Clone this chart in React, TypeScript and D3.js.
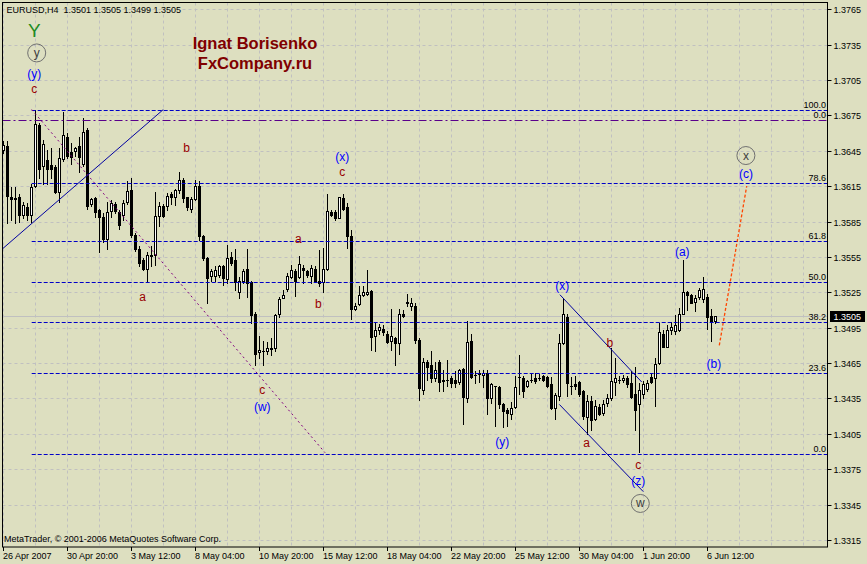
import React from 'react';
import * as d3 from 'd3';

// ---------- DATA ----------
const openP = [
  1.3646, 1.3649, 1.3606, 1.3605, 1.3606, 1.3591, 1.3597, 1.3591, 1.3615, 1.3667,
  1.3632, 1.3637, 1.3633, 1.3631, 1.3610, 1.3638, 1.3657, 1.3644, 1.3645, 1.3649,
  1.3634, 1.3663, 1.3600, 1.3605, 1.3595, 1.3589, 1.3570, 1.3594, 1.3600, 1.3593,
  1.3591, 1.3602, 1.3612, 1.3574, 1.3562, 1.3552, 1.3545, 1.3557, 1.3557, 1.3590,
  1.3598, 1.3598, 1.3608, 1.3606, 1.3612, 1.3620, 1.3606, 1.3596, 1.3604, 1.3615,
  1.3573, 1.3554, 1.3539, 1.3539, 1.3540, 1.3547, 1.3536, 1.3555, 1.3552, 1.3525,
  1.3535, 1.3545, 1.3534, 1.3507, 1.3474, 1.3475, 1.3475, 1.3478, 1.3478, 1.3507,
  1.3520, 1.3528, 1.3538, 1.3543, 1.3538, 1.3546, 1.3543, 1.3539, 1.3545, 1.3535,
  1.3534, 1.3545, 1.3593, 1.3593, 1.3588, 1.3605, 1.3597, 1.3573, 1.3511, 1.3515,
  1.3523, 1.3524, 1.3526, 1.3488, 1.3493, 1.3494, 1.3490, 1.3484, 1.3486, 1.3482,
  1.3507, 1.3517, 1.3513, 1.3513, 1.3485, 1.3442, 1.3466, 1.3463, 1.3452, 1.3466,
  1.3451, 1.3451, 1.3452, 1.3451, 1.3449, 1.3460, 1.3435, 1.3484, 1.3455, 1.3457,
  1.3455, 1.3457, 1.3435, 1.3446, 1.3445, 1.3430, 1.3425, 1.3422, 1.3428, 1.3453,
  1.3452, 1.3446, 1.3451, 1.3452, 1.3452, 1.3454, 1.3453, 1.3447, 1.3427, 1.3437,
  1.3482, 1.3504, 1.3446, 1.3447, 1.3449, 1.3441, 1.3419, 1.3433, 1.3418, 1.3428,
  1.3423, 1.3431, 1.3435, 1.3449, 1.3451, 1.3451, 1.3452, 1.3448, 1.3439, 1.3430,
  1.3439, 1.3443, 1.3453, 1.3452, 1.3465, 1.3490, 1.3479, 1.3493, 1.3492, 1.3493,
  1.3507, 1.3525, 1.3523, 1.3517, 1.3521, 1.3519, 1.3521, 1.3505, 1.3501,
];
const highP = [
  1.3653, 1.3653, 1.3614, 1.3614, 1.3608, 1.3602, 1.3601, 1.3617, 1.3680, 1.3669,
  1.3654, 1.3646, 1.3647, 1.3633, 1.3647, 1.3678, 1.3660, 1.3652, 1.3648, 1.3657,
  1.3673, 1.3664, 1.3605, 1.3606, 1.3596, 1.3592, 1.3602, 1.3603, 1.3602, 1.3595,
  1.3603, 1.3619, 1.3622, 1.3575, 1.3564, 1.3554, 1.3559, 1.3564, 1.3610, 1.3602,
  1.3600, 1.3609, 1.3610, 1.3613, 1.3627, 1.3622, 1.3606, 1.3606, 1.3620, 1.3619,
  1.3574, 1.3555, 1.3545, 1.3547, 1.3548, 1.3548, 1.3565, 1.3559, 1.3562, 1.3538,
  1.3545, 1.3562, 1.3535, 1.3508, 1.3488, 1.3484, 1.3483, 1.3486, 1.3507, 1.3521,
  1.3527, 1.3541, 1.3548, 1.3545, 1.3556, 1.3548, 1.3544, 1.3548, 1.3547, 1.3561,
  1.3563, 1.3608, 1.3595, 1.3595, 1.3606, 1.3608, 1.3601, 1.3578, 1.3516, 1.3530,
  1.3530, 1.3544, 1.3527, 1.3500, 1.3498, 1.3497, 1.3492, 1.3511, 1.3487, 1.3511,
  1.3510, 1.3524, 1.3520, 1.3516, 1.3486, 1.3469, 1.3468, 1.3475, 1.3466, 1.3468,
  1.3459, 1.3468, 1.3454, 1.3458, 1.3460, 1.3461, 1.3501, 1.3490, 1.3458, 1.3459,
  1.3459, 1.3459, 1.3448, 1.3446, 1.3446, 1.3431, 1.3427, 1.3432, 1.3454, 1.3472,
  1.3454, 1.3451, 1.3456, 1.3457, 1.3456, 1.3455, 1.3454, 1.3453, 1.3440, 1.3490,
  1.3520, 1.3507, 1.3453, 1.3454, 1.3450, 1.3442, 1.3438, 1.3437, 1.3434, 1.3430,
  1.3434, 1.3439, 1.3478, 1.3469, 1.3454, 1.3455, 1.3454, 1.3458, 1.3462, 1.3448,
  1.3450, 1.3451, 1.3456, 1.3469, 1.3499, 1.3493, 1.3497, 1.3500, 1.3506, 1.3512,
  1.3552, 1.3526, 1.3524, 1.3523, 1.3529, 1.3538, 1.3524, 1.3511, 1.3505,
];
const lowP = [
  1.3643, 1.3584, 1.3586, 1.3584, 1.3585, 1.3588, 1.3586, 1.3585, 1.3614, 1.3622,
  1.3617, 1.3617, 1.3622, 1.3609, 1.3602, 1.3636, 1.3639, 1.3634, 1.3641, 1.3627,
  1.3632, 1.3596, 1.3598, 1.3589, 1.3559, 1.3568, 1.3562, 1.3589, 1.3592, 1.3579,
  1.3586, 1.3600, 1.3572, 1.3560, 1.3547, 1.3544, 1.3534, 1.3547, 1.3548, 1.3581,
  1.3589, 1.3595, 1.3600, 1.3599, 1.3609, 1.3602, 1.3595, 1.3593, 1.3603, 1.3569,
  1.3552, 1.3516, 1.3535, 1.3535, 1.3538, 1.3531, 1.3533, 1.3548, 1.3527, 1.3520,
  1.3533, 1.3521, 1.3499, 1.3463, 1.3469, 1.3463, 1.3473, 1.3472, 1.3475, 1.3504,
  1.3520, 1.3526, 1.3537, 1.3522, 1.3537, 1.3533, 1.3538, 1.3533, 1.3534, 1.3530,
  1.3525, 1.3544, 1.3590, 1.3586, 1.3588, 1.3595, 1.3563, 1.3502, 1.3510, 1.3514,
  1.3522, 1.3523, 1.3476, 1.3475, 1.3490, 1.3489, 1.3482, 1.3476, 1.3463, 1.3473,
  1.3504, 1.3513, 1.3510, 1.3482, 1.3434, 1.3439, 1.3451, 1.3449, 1.3450, 1.3441,
  1.3441, 1.3446, 1.3445, 1.3445, 1.3447, 1.3413, 1.3432, 1.3452, 1.3448, 1.3449,
  1.3445, 1.3422, 1.3431, 1.3412, 1.3427, 1.3411, 1.3412, 1.3418, 1.3427, 1.3439,
  1.3436, 1.3445, 1.3449, 1.3448, 1.3451, 1.3450, 1.3445, 1.3426, 1.3418, 1.3434,
  1.3481, 1.3437, 1.3439, 1.3443, 1.3437, 1.3418, 1.3405, 1.3408, 1.3417, 1.3421,
  1.3421, 1.3429, 1.3434, 1.3438, 1.3448, 1.3449, 1.3445, 1.3435, 1.3408, 1.3390,
  1.3435, 1.3441, 1.3448, 1.3429, 1.3464, 1.3479, 1.3479, 1.3490, 1.3490, 1.3492,
  1.3507, 1.3510, 1.3516, 1.3509, 1.3519, 1.3517, 1.3494, 1.3484, 1.3499,
];
const closeP = [
  1.3650, 1.3607, 1.3604, 1.3604, 1.3591, 1.3599, 1.3591, 1.3614, 1.3668, 1.3630,
  1.3651, 1.3630, 1.3630, 1.3610, 1.3639, 1.3658, 1.3641, 1.3640, 1.3647, 1.3640,
  1.3661, 1.3598, 1.3604, 1.3593, 1.3589, 1.3570, 1.3593, 1.3601, 1.3594, 1.3582,
  1.3601, 1.3611, 1.3574, 1.3562, 1.3550, 1.3545, 1.3557, 1.3556, 1.3590, 1.3598,
  1.3590, 1.3607, 1.3606, 1.3612, 1.3620, 1.3605, 1.3597, 1.3604, 1.3615, 1.3573,
  1.3554, 1.3537, 1.3543, 1.3544, 1.3547, 1.3537, 1.3554, 1.3550, 1.3534, 1.3535,
  1.3543, 1.3533, 1.3506, 1.3473, 1.3476, 1.3475, 1.3478, 1.3477, 1.3506, 1.3519,
  1.3523, 1.3539, 1.3544, 1.3535, 1.3549, 1.3544, 1.3540, 1.3546, 1.3535, 1.3533,
  1.3545, 1.3594, 1.3591, 1.3588, 1.3606, 1.3596, 1.3573, 1.3511, 1.3513, 1.3523,
  1.3525, 1.3525, 1.3487, 1.3493, 1.3496, 1.3491, 1.3483, 1.3488, 1.3482, 1.3507,
  1.3505, 1.3516, 1.3516, 1.3485, 1.3444, 1.3466, 1.3462, 1.3452, 1.3459, 1.3449,
  1.3450, 1.3451, 1.3448, 1.3448, 1.3459, 1.3436, 1.3483, 1.3453, 1.3455, 1.3456,
  1.3457, 1.3435, 1.3447, 1.3446, 1.3430, 1.3424, 1.3423, 1.3427, 1.3445, 1.3453,
  1.3441, 1.3450, 1.3451, 1.3450, 1.3452, 1.3451, 1.3446, 1.3427, 1.3438, 1.3482,
  1.3507, 1.3448, 1.3446, 1.3446, 1.3439, 1.3420, 1.3433, 1.3417, 1.3429, 1.3422,
  1.3430, 1.3435, 1.3450, 1.3452, 1.3451, 1.3452, 1.3447, 1.3436, 1.3425, 1.3442,
  1.3447, 1.3448, 1.3449, 1.3464, 1.3491, 1.3479, 1.3493, 1.3496, 1.3497, 1.3507,
  1.3525, 1.3523, 1.3516, 1.3520, 1.3527, 1.3528, 1.3504, 1.3501, 1.3505,
];

const priceTicks = [1.3765, 1.3735, 1.3705, 1.3675, 1.3645, 1.3615, 1.3585, 1.3555,
  1.3525, 1.3495, 1.3465, 1.3435, 1.3405, 1.3375, 1.3345, 1.3315];
const timeLabels = ['26 Apr 2007', '30 Apr 20:00', '3 May 12:00', '8 May 04:00', '10 May 20:00',
  '15 May 12:00', '18 May 04:00', '22 May 20:00', '25 May 12:00', '30 May 04:00', '1 Jun 20:00', '6 Jun 12:00'];
const timeLabelBars = [0, 16, 32, 48, 64, 80, 96, 112, 128, 144, 160, 176];

const fibLevels = [0, 23.6, 38.2, 50, 61.8, 78.6, 100];
const fibLowPrice = 1.3388;
const fibHighPrice = 1.3680;
const fibStartBar = 7.25;
const fib2ZeroPrice = 1.3671;
const lastPrice = 1.3505;
const headerText = 'EURUSD,H4  1.3501 1.3505 1.3499 1.3505';

// wave labels: [text, bar, price, kind]
const waveLabels: [string, number, number, string][] = [
  ['Y', 7.9, 1.3747, 'major'],
  ['y', 8.5, 1.3728, 'circle'],
  ['(y)', 7.9, 1.3710, 'inter'],
  ['c', 7.9, 1.3697, 'minor'],
  ['b', 46, 1.3647, 'minor'],
  ['a', 35, 1.3521, 'minor'],
  ['(x)', 84.9, 1.3640, 'inter'],
  ['c', 84.9, 1.3627, 'minor'],
  ['a', 73.9, 1.3570, 'minor'],
  ['b', 78.9, 1.3515, 'minor'],
  ['c', 64.9, 1.3442, 'minor'],
  ['(w)', 64.9, 1.3428, 'inter'],
  ['(y)', 124.9, 1.3398, 'inter'],
  ['(x)', 139.9, 1.3530, 'inter'],
  ['b', 151.8, 1.3482, 'minor'],
  ['a', 146, 1.3397, 'minor'],
  ['c', 158.9, 1.3379, 'minor'],
  ['(z)', 158.9, 1.3365, 'inter'],
  ['w', 159.4, 1.3346, 'circle'],
  ['(a)', 169.9, 1.3559, 'inter'],
  ['(b)', 177.8, 1.3464, 'inter'],
  ['(c)', 185.8, 1.3625, 'inter'],
  ['x', 185.8, 1.3641, 'circle'],
];

// trend lines: [bar1, price1, bar2, price2, kind]
const trendLines: [number, number, number, number, string][] = [
  [-0.7, 1.3560, 40.15, 1.3680, 'solid'],
  [7.25, 1.3680, 80.6, 1.3389, 'dotted'],
  [139.3, 1.3523, 159.75, 1.3449, 'solid'],
  [139.15, 1.3430, 160.15, 1.3356, 'solid'],
  [179.15, 1.3480, 186.0, 1.3615, 'forecast'],
];

const FONT = "'Liberation Sans', Arial, sans-serif";

export default function App() {
  const W = 867, H = 564;
  const left = 2.5, top = 2.5, right = 827.5, bottom = 547;
  const x = d3.scaleLinear().domain([0, 178]).range([2.7, 714.7]);
  const y = d3.scaleLinear().domain([1.3315, 1.3765]).range([540, 9.3]);
  const py = (p: number) => Math.round(y(p));

  const gridBars = d3.range(0, 201, 8).filter((b) => x(b) < right);

  const candles = openP.map((o, i) => {
    const c = closeP[i], h = highP[i], l = lowP[i];
    const col = Math.round(x(i));
    const yh = py(h), yl = py(l);
    const yt = py(Math.max(o, c)), yb = py(Math.min(o, c));
    const bull = c >= o;
    const bh = Math.max(1, yb - yt + 1);
    return (
      <g key={i}>
        <rect x={col} y={yh} width={1} height={yl - yh + 1} fill="#000" />
        <rect x={col - 1} y={yt} width={3} height={bh} fill="#000" />
        {bull && bh > 2 && <rect x={col} y={yt + 1} width={1} height={bh - 2} fill="#fff" />}
      </g>
    );
  });

  const fibPrice = (lv: number) => fibLowPrice + (fibHighPrice - fibLowPrice) * lv / 100;

  const labelColor: Record<string, string> = { major: '#1E8C1E', inter: '#0000FF', minor: '#990000', circle: '#404040' };
  const lineStyle: Record<string, { stroke: string; dash?: string; w: number }> = {
    solid: { stroke: '#0000A0', w: 1 },
    dotted: { stroke: '#800080', dash: '2,3', w: 1 },
    forecast: { stroke: '#FF4500', dash: '3,2', w: 1.3 },
  };

  return (
    <svg width={W} height={H} style={{ position: 'absolute', left: 0, top: 0 }} fontFamily={FONT}>
      <defs>
        <clipPath id="plot">
          <rect x={left + 0.5} y={top + 0.5} width={right - left - 1} height={bottom - top - 1} />
        </clipPath>
      </defs>
      <rect x={0} y={0} width={W} height={H} fill="#DDDFC0" />

      <g clipPath="url(#plot)">
        {priceTicks.map((t) => (
          <line key={'h' + t} x1={left} x2={right} y1={py(t) + 0.5} y2={py(t) + 0.5}
            stroke="#C0C0C0" strokeDasharray="3,3" />
        ))}
        {gridBars.map((b) => (
          <line key={'v' + b} x1={Math.round(x(b)) + 0.5} x2={Math.round(x(b)) + 0.5} y1={top} y2={bottom}
            stroke="#C0C0C0" strokeDasharray="3,3" />
        ))}
        <line x1={left} x2={right} y1={py(lastPrice) + 0.5} y2={py(lastPrice) + 0.5} stroke="#C0C0C0" />

        {candles}

        {fibLevels.map((lv) => (
          <line key={'f' + lv} x1={x(fibStartBar)} x2={right} y1={py(fibPrice(lv)) + 0.5} y2={py(fibPrice(lv)) + 0.5}
            stroke="#0000C8" strokeDasharray="4,2" />
        ))}
        <line x1={left} x2={right} y1={py(fib2ZeroPrice) + 0.5} y2={py(fib2ZeroPrice) + 0.5}
          stroke="#5A008C" strokeDasharray="8,3,2,3" />

        {trendLines.map(([b1, p1, b2, p2, k], i) => {
          const st = lineStyle[k];
          return (
            <line key={'t' + i} x1={x(b1)} y1={y(p1)} x2={x(b2)} y2={y(p2)}
              stroke={st.stroke} strokeWidth={st.w} strokeDasharray={st.dash} />
          );
        })}
      </g>

      {fibLevels.map((lv) => (
        <text key={'fl' + lv} x={826} y={py(fibPrice(lv)) - 2} fontSize={9} textAnchor="end" fill="#000">
          {lv.toFixed(1)}
        </text>
      ))}
      <text x={826} y={py(fib2ZeroPrice) - 2} fontSize={9} textAnchor="end" fill="#000">0.0</text>

      {waveLabels.map(([t, b, p, k], i) => {
        const cx = x(b), cy = y(p);
        if (k === 'circle') {
          return (
            <g key={'w' + i}>
              <circle cx={cx} cy={cy} r={9} fill="none" stroke="#707070" strokeWidth={1} />
              <text x={cx} y={cy} fontSize={12} textAnchor="middle" dominantBaseline="central" fill={labelColor[k]}>{t}</text>
            </g>
          );
        }
        return (
          <text key={'w' + i} x={cx} y={cy} fontSize={k === 'major' ? 19 : 12} textAnchor="middle"
            dominantBaseline="central" fill={labelColor[k]}>{t}</text>
        );
      })}

      <text x={255} y={49.3} fontSize={16.5} fontWeight="bold" textAnchor="middle" fill="#800000">Ignat Borisenko</text>
      <text x={255} y={69.3} fontSize={16.5} fontWeight="bold" textAnchor="middle" fill="#800000">FxCompany.ru</text>

      <text x={6.5} y={13.3} fontSize={9} fill="#000" style={{ whiteSpace: 'pre' }}>{headerText}</text>
      <text x={4} y={542.3} fontSize={9} fill="#000">MetaTrader, © 2001-2006 MetaQuotes Software Corp.</text>

      <rect x={left} y={top} width={right - left} height={bottom - top} fill="none" stroke="#000" />

      {priceTicks.map((t) => (
        <g key={'pt' + t}>
          <line x1={right} x2={831.5} y1={py(t) + 0.5} y2={py(t) + 0.5} stroke="#000" />
          <text x={833.5} y={py(t) + 3.5} fontSize={9} fill="#000">{t.toFixed(4)}</text>
        </g>
      ))}
      <rect x={830} y={py(lastPrice) - 5} width={35} height={11} fill="#000" />
      <text x={833.5} y={py(lastPrice) + 3.5} fontSize={9} fill="#fff">{lastPrice.toFixed(4)}</text>

      {timeLabelBars.map((b, i) => (
        <g key={'tl' + b}>
          <line x1={Math.round(x(b)) + 0.5} x2={Math.round(x(b)) + 0.5} y1={bottom} y2={551} stroke="#000" />
          <text x={Math.round(x(b))} y={559} fontSize={9} fill="#000">{timeLabels[i]}</text>
        </g>
      ))}
    </svg>
  );
}
